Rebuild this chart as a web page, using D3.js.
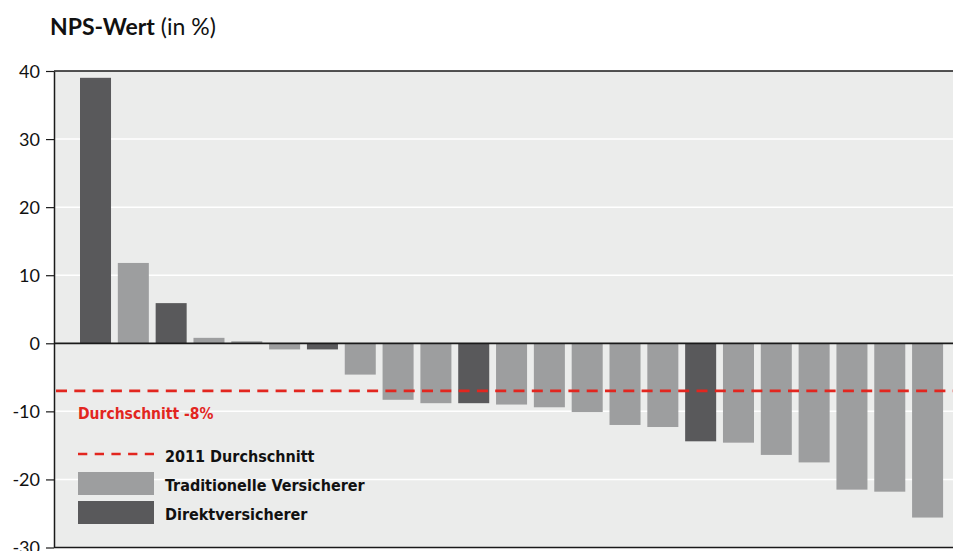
<!DOCTYPE html>
<html>
<head>
<meta charset="utf-8">
<script src="https://cdn.jsdelivr.net/npm/d3@7"></script>
<style>
  html, body { margin: 0; padding: 0; background: #ffffff; }
  svg { display: block; }
</style>
</head>
<body>
<svg id="chart" width="953" height="551"></svg>
<script>
// NPS values per insurer, sorted descending
const insurers = ["V01","V02","V03","V04","V05","V06","V07","V08","V09","V10","V11","V12",
                  "V13","V14","V15","V16","V17","V18","V19","V20","V21","V22","V23"];
const npsValues = [39, 11.8, 5.9, 0.8, 0.3, -0.9, -0.9, -4.6, -8.3, -8.8, -8.8, -9.0,
                   -9.4, -10.1, -12.0, -12.3, -14.4, -14.6, -16.4, -17.5, -21.5, -21.8, -25.6];
// "D" = Direktversicherer, "T" = Traditionelle Versicherer
const insurerType = ["D","T","D","T","T","T","D","T","T","T","D","T",
                     "T","T","T","T","D","T","T","T","T","T","T"];
const avg2011 = -7;
const avgCurrentLabel = "Durchschnitt -8%";
const yTicks = [-30, -20, -10, 0, 10, 20, 30, 40];
const legendItems = ["2011 Durchschnitt", "Traditionelle Versicherer", "Direktversicherer"];

const colors = { D: "#59595b", T: "#9d9e9f", red: "#e2261f", bg: "#ebeceb", axis: "#1a1a1a" };
const fontMain = "'Lato', 'Open Sans', sans-serif";
const fontBold = "'DejaVu Sans Condensed', 'DejaVu Sans', sans-serif";

const svg = d3.select("#chart");
const plot = { left: 54, right: 953, top: 71, bottom: 547.5 };

const y = d3.scaleLinear().domain([-30, 40]).range([plot.bottom, plot.top]);
const x = d3.scaleBand().domain(insurers).range([76.6, 946.5]).paddingInner(0.18).paddingOuter(0.09);

// Title
const title = svg.append("text")
  .attr("x", 50).attr("y", 35)
  .attr("font-family", "'Lato', sans-serif")
  .attr("font-size", 23).attr("fill", "#111");
title.append("tspan").attr("font-weight", 700).text("NPS-Wert");
title.append("tspan").attr("font-weight", 400).text(" (in %)");

// Plot background
svg.append("rect")
  .attr("x", plot.left).attr("y", plot.top)
  .attr("width", plot.right - plot.left).attr("height", plot.bottom - plot.top)
  .attr("fill", colors.bg);

// Gridlines
svg.append("g").selectAll("line")
  .data(yTicks.filter(t => t !== 0 && t !== 40 && t !== -30))
  .join("line")
  .attr("x1", plot.left).attr("x2", plot.right)
  .attr("y1", d => y(d)).attr("y2", d => y(d))
  .attr("stroke", "#ffffff").attr("stroke-width", 1.5);

// Bars
svg.append("g").selectAll("rect")
  .data(insurers.map((k, i) => ({ k, v: npsValues[i], t: insurerType[i] })))
  .join("rect")
  .attr("x", d => x(d.k))
  .attr("width", x.bandwidth())
  .attr("y", d => y(Math.max(0, d.v)))
  .attr("height", d => Math.abs(y(d.v) - y(0)))
  .attr("fill", d => colors[d.t]);

// 2011 average line
svg.append("line")
  .attr("x1", 56).attr("x2", plot.right)
  .attr("y1", y(avg2011)).attr("y2", y(avg2011))
  .attr("stroke", colors.red).attr("stroke-width", 2.7)
  .attr("stroke-dasharray", "11,7.3");

// Zero line and frame
svg.append("line")
  .attr("x1", plot.left).attr("x2", plot.right)
  .attr("y1", y(0)).attr("y2", y(0))
  .attr("stroke", colors.axis).attr("stroke-width", 1.8);
svg.append("line")
  .attr("x1", plot.left).attr("x2", plot.right)
  .attr("y1", plot.top).attr("y2", plot.top)
  .attr("stroke", colors.axis).attr("stroke-width", 1.5);
svg.append("line")
  .attr("x1", plot.left).attr("x2", plot.right)
  .attr("y1", plot.bottom).attr("y2", plot.bottom)
  .attr("stroke", colors.axis).attr("stroke-width", 1.5);

// Y axis (hyphen as minus sign)
const yAxis = svg.append("g")
  .attr("transform", `translate(${plot.left},0)`)
  .call(d3.axisLeft(y).tickValues(yTicks).tickFormat(d => String(d))
    .tickSize(8).tickPadding(6).tickSizeOuter(0));
yAxis.select(".domain").attr("stroke", colors.axis).attr("stroke-width", 1.5);
yAxis.selectAll(".tick line").attr("stroke", colors.axis).attr("stroke-width", 1.2);
yAxis.selectAll(".tick text")
  .attr("font-family", fontMain).attr("font-size", 18).attr("fill", "#111")
  .attr("dy", "0.36em");

// Current average label
svg.append("text")
  .attr("x", 78).attr("y", 419)
  .attr("font-family", fontBold).attr("font-weight", 700)
  .attr("font-size", 15.5).attr("fill", colors.red)
  .text(avgCurrentLabel);

// Legend
const lg = svg.append("g");
lg.append("line")
  .attr("x1", 78).attr("x2", 154).attr("y1", 454).attr("y2", 454)
  .attr("stroke", colors.red).attr("stroke-width", 2.7)
  .attr("stroke-dasharray", "9.3,7.4");
lg.append("rect").attr("x", 78).attr("y", 472).attr("width", 76).attr("height", 23).attr("fill", colors.T);
lg.append("rect").attr("x", 78).attr("y", 501).attr("width", 76).attr("height", 23).attr("fill", colors.D);
lg.selectAll("text")
  .data(legendItems)
  .join("text")
  .attr("x", 165)
  .attr("y", (d, i) => [461.5, 491, 519.5][i])
  .attr("font-family", fontBold).attr("font-weight", 700)
  .attr("font-size", 16).attr("fill", "#111")
  .text(d => d);
</script>
</body>
</html>
